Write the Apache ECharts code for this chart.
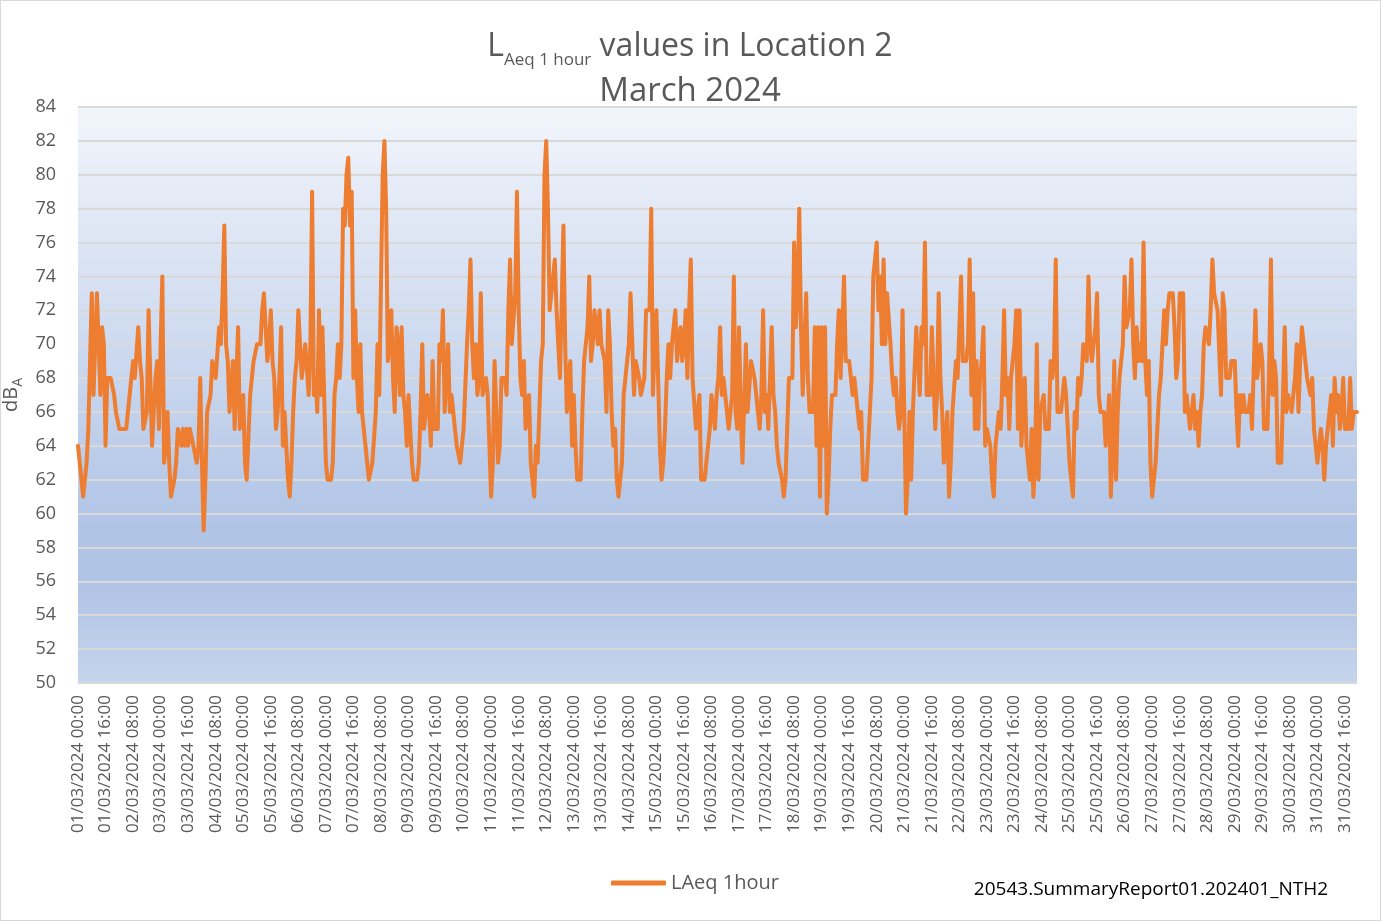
<!DOCTYPE html>
<html>
<head>
<meta charset="utf-8">
<script src="https://cdn.jsdelivr.net/npm/echarts@6/dist/echarts.min.js"></script>
<style>
    html, body { margin: 0; padding: 0; background: #ffffff; }
    #chart {
        width: 1381px;
        height: 921px;
        box-sizing: border-box;
        border: 1px solid #d9d9d9;
    }
</style>
</head>
<body>
<div id="chart"></div>
<script>
// hourly LAeq values, March 2024, one row per day (00:00 .. 23:00)
const laeq = [
    64,63,62,61,61,63,65,69,73,67,67,73,73,67,71,70,64,68,68,68,68,67,66,66,
    65,65,65,65,65,66,66,68,69,68,68,71,69,68,65,65,66,72,68,64,66,68,69,65,
    70,74,63,64,66,63,61,61,62,63,65,65,64,65,64,65,64,65,65,64,64,63,64,68,
    63,59,62,66,66,67,69,69,68,68,71,70,73,77,70,69,66,66,69,65,65,71,65,66,
    67,63,62,62,67,68,69,69,70,70,70,72,73,73,69,70,72,69,68,65,66,68,71,64,
    66,64,62,61,63,66,68,69,72,70,68,68,70,70,67,70,79,67,68,66,72,67,71,71,
    63,62,62,62,63,67,68,70,68,70,78,77,80,81,77,79,68,72,68,66,70,66,66,64,
    63,62,62,63,63,66,70,67,67,80,82,78,69,70,72,68,66,71,70,67,71,67,66,64,
    67,67,63,62,62,62,63,66,70,65,66,67,66,64,69,65,65,65,70,69,72,66,66,70,
    66,67,67,65,64,64,63,64,65,65,70,72,75,70,68,70,67,68,73,67,67,68,67,64,
    61,63,69,66,63,64,68,68,68,67,72,75,70,70,73,79,72,68,67,69,65,66,67,63,
    62,61,64,63,66,69,70,80,82,78,72,73,74,75,72,70,68,68,77,70,66,68,69,64,
    67,64,62,62,62,66,69,69,71,74,69,70,72,71,70,72,70,70,69,66,72,70,66,64,
    65,62,61,61,63,67,68,69,70,73,70,67,69,69,68,67,67,68,72,72,72,78,67,70,
    72,72,64,62,63,65,68,70,68,70,70,72,69,70,71,69,70,72,68,72,75,68,68,65,
    66,67,62,62,62,62,64,65,67,67,65,67,68,71,67,68,68,66,65,65,67,74,66,65,
    71,66,63,63,70,66,66,69,69,68,67,66,65,67,72,66,67,65,65,71,67,66,64,63,
    63,62,61,62,65,68,68,68,76,71,73,78,71,67,70,73,68,66,66,66,71,64,71,61,
    71,64,71,60,62,65,67,67,67,70,72,68,68,74,69,69,69,68,67,68,68,66,65,66,
    62,62,62,62,66,68,74,74,76,72,74,70,75,70,73,73,70,68,67,68,66,65,66,72,
    66,60,62,66,62,66,66,71,71,67,71,70,76,67,67,67,71,71,65,67,73,68,66,63,
    63,66,61,63,66,66,69,68,68,74,69,69,69,70,75,67,73,65,69,65,68,69,71,64,
    65,65,64,62,61,64,64,66,65,68,72,67,68,65,68,68,70,72,65,72,64,66,68,64,
    64,62,65,61,63,70,62,66,66,67,65,65,65,69,68,69,75,66,66,66,66,68,67,65,
    63,62,61,66,65,68,67,68,70,70,69,74,70,69,69,71,73,67,66,66,66,64,65,67,
    61,64,69,62,66,68,68,70,74,71,71,72,75,70,68,71,69,70,69,76,69,67,69,63,
    61,62,63,65,67,68,68,72,70,72,73,73,73,71,68,69,73,73,73,66,67,67,65,65,
    67,65,66,64,66,67,70,71,71,70,72,75,73,73,72,72,67,73,72,68,68,68,69,69,
    69,66,64,67,66,67,66,66,66,67,65,65,72,68,68,70,69,65,65,65,69,75,67,69,
    68,63,63,63,63,71,66,67,67,66,66,68,70,66,69,71,70,69,68,68,67,68,65,64,
    63,64,65,64,62,64,64,66,67,64,68,66,67,65,66,68,65,65,65,68,65,66,66,66
];

const month = '03';
const year = '2024';
const days = 31;

// category labels dd/03/2024 hh:00
const hours = [];
for (let d = 1; d <= days; d++) {
    for (let h = 0; h < 24; h++) {
        hours.push(String(d).padStart(2, '0') + '/' + month + '/' + year + ' ' + String(h).padStart(2, '0') + ':00');
    }
}

const fontFamily = '"Open Sans", "Noto Sans", sans-serif';
const grey = '#595959';

var myChart = echarts.init(document.getElementById('chart'));

myChart.setOption({
    animation: false,
    textStyle: { fontFamily: fontFamily },
    grid: {
        left: 77,
        right: 23,
        top: 106,
        bottom: 237,
        outerBoundsMode: 'none',
        show: true,
        borderWidth: 0,
        backgroundColor: new echarts.graphic.LinearGradient(0, 0, 0, 1, [
            { offset: 0, color: '#f2f5fb' },
            { offset: 0.74, color: '#b0c4e6' },
            { offset: 0.83, color: '#b0c4e6' },
            { offset: 1, color: '#c6d4ed' }
        ])
    },
    graphic: [
        {
            type: 'text',
            x: 689,
            y: 46,
            style: {
                text: '{l|L}{s|Aeq 1 hour}{l| values in Location 2}',
                align: 'center',
                verticalAlign: 'middle',
                rich: {
                    l: { fontSize: 32, lineHeight: 44, fill: grey, fontFamily: fontFamily },
                    s: { fontSize: 17, lineHeight: 18, verticalAlign: 'bottom', fill: grey, fontFamily: fontFamily }
                }
            }
        },
        {
            type: 'text',
            x: 689,
            y: 91,
            style: {
                text: 'March 2024',
                align: 'center',
                verticalAlign: 'middle',
                fontSize: 33,
                fill: grey,
                fontFamily: fontFamily
            }
        },
        {
            type: 'text',
            x: 1150,
            y: 889,
            style: {
                text: '20543.SummaryReport01.202401_NTH2',
                align: 'center',
                verticalAlign: 'middle',
                fontSize: 19,
                fill: '#000000',
                fontFamily: fontFamily
            }
        }
    ],
    legend: {
        data: ['LAeq 1hour'],
        left: 605,
        top: 867,
        icon: 'roundRect',
        itemWidth: 55,
        itemHeight: 5,
        itemGap: 4,
        textStyle: { fontSize: 20, color: grey, fontFamily: fontFamily }
    },
    xAxis: {
        type: 'category',
        data: hours,
        boundaryGap: false,
        axisLine: { lineStyle: { color: '#d9d9d9', width: 1 } },
        axisTick: { show: false },
        axisLabel: {
            interval: 15,
            rotate: 90,
            margin: 12,
            fontSize: 17,
            color: grey,
            fontFamily: fontFamily
        },
        splitLine: { show: false }
    },
    yAxis: {
        type: 'value',
        min: 50,
        max: 84,
        interval: 2,
        name: '{a|dB}{s|A}',
        nameLocation: 'middle',
        nameRotate: 90,
        nameGap: 38,
        nameTextStyle: {
            rich: {
                a: { fontSize: 20, lineHeight: 26, color: grey, fontFamily: fontFamily },
                s: { fontSize: 14, lineHeight: 14, verticalAlign: 'bottom', color: grey, fontFamily: fontFamily }
            }
        },
        axisLine: { show: false },
        axisTick: { show: false },
        axisLabel: { fontSize: 18, color: grey, margin: 22, fontFamily: fontFamily },
        splitLine: { lineStyle: { color: '#d9d9d9', width: 2 } }
    },
    series: [
        {
            name: 'LAeq 1hour',
            type: 'line',
            data: laeq,
            showSymbol: false,
            symbol: 'none',
            lineStyle: { color: '#ed7d31', width: 4, join: 'round', cap: 'round' },
            itemStyle: { color: '#ed7d31' }
        }
    ]
});
</script>
</body>
</html>
